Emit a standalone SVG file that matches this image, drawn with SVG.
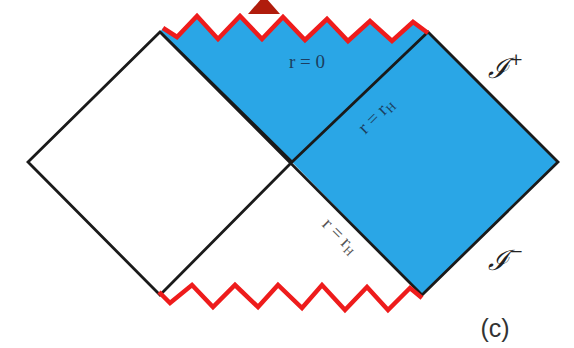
<svg xmlns="http://www.w3.org/2000/svg" width="574" height="348" viewBox="0 0 574 348">
<style>
.edge{fill:none;stroke:#1a1a1a;stroke-width:2.8;stroke-linejoin:miter}
.zig{fill:none;stroke:#ee1c1c;stroke-width:4.5;stroke-linejoin:miter}
.lbl{font-family:"Liberation Serif","DejaVu Serif",serif;font-size:19px}
.scr{font-family:"DejaVu Serif","Liberation Serif",serif;font-style:italic;font-size:28px;fill:#222}
</style>
<rect width="574" height="348" fill="#ffffff"/>
<g id="region">
<polygon points="160,32 163,28 177,37 197,16 218,39 240,16 262,39 283,17 305,40 327,19 348,41 370,21 392,41 413,22 428,33 428,32 558,162 422,295 292,162" fill="#2aa6e6"/>
</g>
<g id="connectors">
<polyline class="edge" points="292,162 160,32 28,162 160,295 292,162 428,32 558,162 422,295 160,32"/>
<polyline class="zig" points="163,28 177,37 197,16 218,39 240,16 262,39 283,17 305,40 327,19 348,41 370,21 392,41 413,22 428,33"/>
<polyline class="zig" points="159,292 170,303 192,285 213,307 235,285 258,307 278,285 302,308 322,285 345,310 367,287 388,310 410,288 422,298"/>
</g>
<g id="arrow">
<polygon points="248,14 280,14 266,-2 262,-2" fill="#b01c0c"/>
</g>
<g id="labels">
<text class="lbl" x="307" y="68" text-anchor="middle" fill="#1c3e60">r = 0</text>
<text class="lbl" x="0" y="0" text-anchor="middle" fill="#1c3e60" transform="translate(380,120) rotate(-45)">r = r<tspan font-size="12" dy="3">H</tspan></text>
<text class="lbl" x="0" y="0" text-anchor="middle" fill="#555" transform="translate(336,240) rotate(45)">r = r<tspan font-size="12" dy="3">H</tspan></text>
<text class="scr" x="488" y="78">ℐ<tspan font-size="17" dy="-13" font-style="normal">+</tspan></text>
<text class="scr" x="488" y="270">ℐ<tspan font-size="17" dy="-13" font-style="normal">−</tspan></text>
<text x="495" y="337" text-anchor="middle" font-family="Liberation Sans,Arial,sans-serif" font-size="25" fill="#333">(c)</text>
</g>
</svg>
